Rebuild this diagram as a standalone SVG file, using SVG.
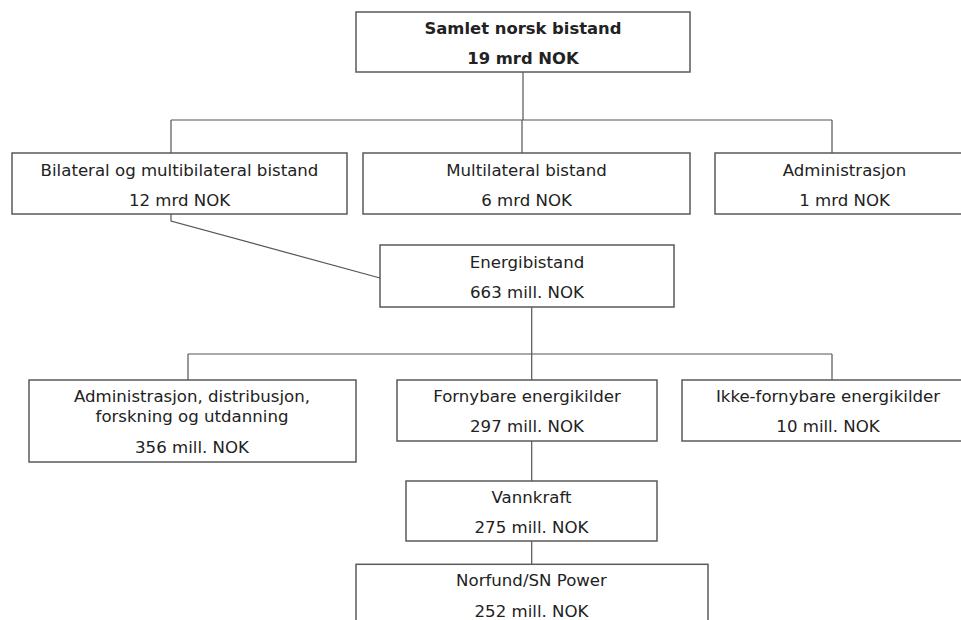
<svg xmlns="http://www.w3.org/2000/svg" width="961" height="620" viewBox="0 0 961 620">
<style>
.box{fill:#fff;stroke:#5a5a5a;stroke-width:1.5}
.c{fill:none;stroke:#555;stroke-width:1.2}
text{font-family:"DejaVu Sans",Verdana,sans-serif;font-size:16.6px;fill:#222;text-anchor:middle}
.b{font-weight:bold;font-size:16.4px}
</style>
<rect width="961" height="620" fill="#fff"/>
<g id="connectors">
<path class="c" d="M523 72V120M171 120H832M171 120V153M522 120V153M832 120V153"/>
<path class="c" d="M171 214V221L380 278"/>
<path class="c" d="M531.7 307V380M188 354H832M188 354V380M832 354V380"/>
<path class="c" d="M531.7 441V481M531.7 541V564"/>
</g>
<g id="n-samlet">
<rect class="box" x="356" y="12" width="334" height="60"/>
<text class="b" x="523" y="33.5">Samlet norsk bistand</text>
<text class="b" x="523" y="64">19 mrd NOK</text>
</g>
<g id="n-bilateral">
<rect class="box" x="12" y="153" width="335" height="61"/>
<text x="179.5" y="175.5">Bilateral og multibilateral bistand</text>
<text x="179.5" y="205.5">12 mrd NOK</text>
</g>
<g id="n-multilateral">
<rect class="box" x="363" y="153" width="327" height="61"/>
<text x="526.5" y="175.5">Multilateral bistand</text>
<text x="526.5" y="205.5">6 mrd NOK</text>
</g>
<g id="n-administrasjon">
<rect class="box" x="715" y="153" width="260" height="61"/>
<text x="844.5" y="175.5">Administrasjon</text>
<text x="844.5" y="205.5">1 mrd NOK</text>
</g>
<g id="n-energi">
<rect class="box" x="380" y="245" width="294" height="62"/>
<text x="527" y="268">Energibistand</text>
<text x="527" y="298">663 mill. NOK</text>
</g>
<g id="n-adm-dist">
<rect class="box" x="29" y="380" width="327" height="82"/>
<text x="192" y="401.7">Administrasjon, distribusjon,</text>
<text x="192" y="421.7">forskning og utdanning</text>
<text x="192" y="452.7">356 mill. NOK</text>
</g>
<g id="n-fornybare">
<rect class="box" x="397" y="380" width="260" height="61"/>
<text x="527" y="401.7">Fornybare energikilder</text>
<text x="527" y="431.7">297 mill. NOK</text>
</g>
<g id="n-ikke">
<rect class="box" x="682" y="380" width="292" height="61"/>
<text x="828" y="401.7">Ikke-fornybare energikilder</text>
<text x="828" y="431.7">10 mill. NOK</text>
</g>
<g id="n-vannkraft">
<rect class="box" x="406" y="481" width="251" height="60"/>
<text x="531.5" y="503.3">Vannkraft</text>
<text x="531.5" y="532.7">275 mill. NOK</text>
</g>
<g id="n-norfund">
<rect class="box" x="356" y="564.3" width="352" height="80"/>
<text x="531.5" y="586">Norfund/SN Power</text>
<text x="531.5" y="616.7">252 mill. NOK</text>
</g>
</svg>
